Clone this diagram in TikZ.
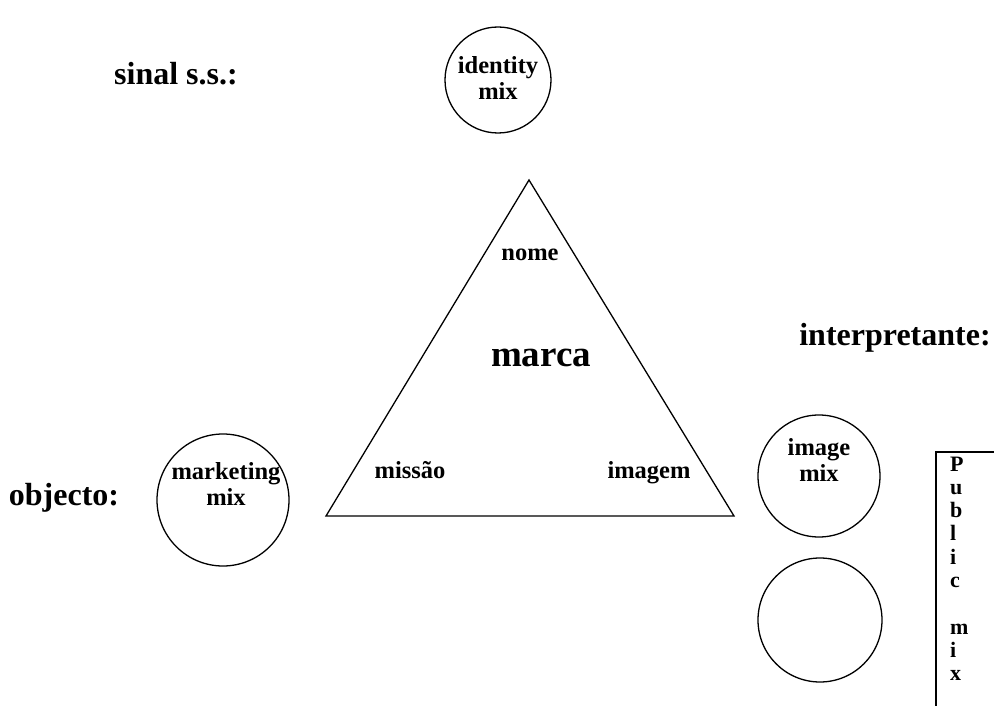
\documentclass[tikz,border=0pt]{standalone}
\usepackage{fontspec}
\setmainfont{Liberation Serif}
\begin{document}
\begin{tikzpicture}[x=1pt,y=1pt,
  line/.style={line width=1.3pt},
  ring/.style={line, draw, circle, inner sep=0pt},
  head/.style={font=\bfseries\fontsize{32}{35}\selectfont, inner sep=0pt},
  label/.style={font=\bfseries\fontsize{24.5}{26}\selectfont, align=center, inner sep=0pt},
  big/.style={font=\bfseries\fontsize{37}{40}\selectfont, inner sep=0pt},
  letter/.style={font=\bfseries\fontsize{22}{23}\selectfont, anchor=base west, inner sep=0pt}]
\useasboundingbox (0,0) rectangle (994,-706);
\clip (0,0) rectangle (994,-706);

% side headings
\node[head] (sinal) at (176,-74) {sinal s.s.:};
\node[head] (objecto) at (64,-498) {objecto:};
\node[head] (interp) at (895,-338) {interpretante:};

% the three mixes around the triangle
\node[ring, minimum size=106pt] (identity) at (498,-80) {};
\node[label] (identityT) at (498,-78) {identity\\mix};
\node[ring, minimum size=132pt] (marketing) at (223,-500) {};
\node[label] (marketingT) at (226,-484) {marketing\\mix};
\node[ring, minimum size=122pt] (image) at (819,-476) {};
\node[label] (imageT) at (819,-460) {image\\mix};
\node[ring, minimum size=124pt] (lower) at (820,-620) {};

% the brand triangle
\coordinate (apex) at (529,-180);
\coordinate (bl) at (326,-516);
\coordinate (br) at (734,-516);
\draw[line, line join=miter] (apex) -- (bl) -- (br) -- cycle;
\node[label] (nome) at (530,-255) {nome};
\node[big] (marca) at (541,-358) {marca};
\node[label, anchor=base] (missao) at (410,-478) {missão};
\node[label, anchor=base] (imagem) at (649,-478) {imagem};

% the public mix box, running off the page
\coordinate (boxTL) at (936,-452);
\draw[line] (boxTL) rectangle (1010,-720);
\foreach \ch [count=\k] in {P,u,b,l,i,c,{},m,i,x}
  \node[letter] (pub\k) at (950,{-471-23.3*(\k-1)}) {\ch};
\end{tikzpicture}
\end{document}
